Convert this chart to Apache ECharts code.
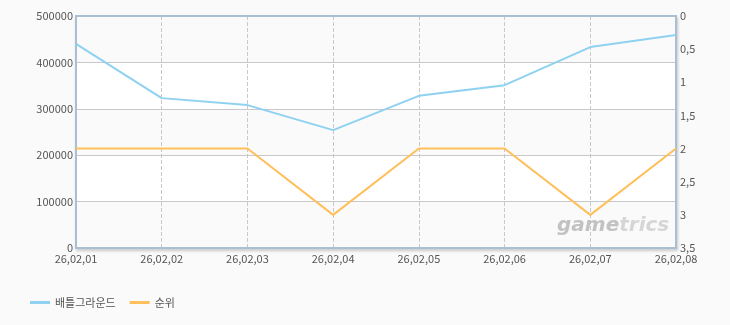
<!DOCTYPE html>
<html>
<head>
<meta charset="utf-8">
<script src="https://cdn.jsdelivr.net/npm/echarts@6/dist/echarts.min.js"></script>
<style>
  html, body { margin: 0; padding: 0; background: #fafafa; }
  #chart { width: 730px; height: 325px; }
</style>
</head>
<body>
<div id="chart"></div>
<script>
// 날짜
var dates = ['26.02.01', '26.02.02', '26.02.03', '26.02.04', '26.02.05', '26.02.06', '26.02.07', '26.02.08']
// 배틀그라운드 값
var battleground = [440000, 323000, 308000, 254000, 328000, 351000, 433000, 459000]
// 순위
var rank = [2, 2, 2, 3, 2, 2, 3, 2]

var font = '"Noto Sans CJK KR", "DejaVu Sans", sans-serif'
var frameColor = '#abbfd3'

var chart = echarts.init(document.getElementById('chart'))
chart.setOption({
  animation: false,
  backgroundColor: '#fafafa',
  textStyle: { fontFamily: font },
  grid: {
    left: 76,
    right: 54,
    top: 16,
    bottom: 77,
    show: true,
    backgroundColor: '#fff',
    borderColor: frameColor,
    borderWidth: 2,
    shadowColor: 'rgba(0,0,0,0.15)',
    shadowBlur: 3,
    shadowOffsetX: 1,
    shadowOffsetY: 2
  },
  legend: {
    left: 25,
    top: 292,
    icon: 'rect',
    itemWidth: 20,
    itemHeight: 3,
    itemGap: 14,
    textStyle: { color: '#555', fontSize: 11, fontFamily: font },
    data: ['배틀그라운드', '순위']
  },
  xAxis: [
    {
      type: 'category',
      boundaryGap: false,
      data: dates,
      axisLine: { show: true, lineStyle: { color: frameColor, width: 2 } },
      axisTick: { show: false },
      axisLabel: {
        color: '#555',
        fontSize: 11,
        margin: 5,
        formatter: function (v) { return v.replace(/\./g, ',') }
      },
      splitLine: { show: true, lineStyle: { color: '#c8c8c8', type: 'dashed' } }
    },
    {
      type: 'category',
      position: 'top',
      boundaryGap: false,
      data: dates,
      axisLine: { show: true, lineStyle: { color: frameColor, width: 2 } },
      axisTick: { show: false },
      axisLabel: { show: false },
      splitLine: { show: false }
    }
  ],
  yAxis: [
    {
      type: 'value',
      min: 0,
      max: 500000,
      interval: 100000,
      axisLine: { show: true, lineStyle: { color: frameColor, width: 2 } },
      axisTick: { show: false },
      axisLabel: {
        color: '#555',
        fontSize: 11,
        margin: 3,
        formatter: function (v) { return String(v) }
      },
      splitLine: { lineStyle: { color: '#c8c8c8' } },
      splitArea: { show: true, areaStyle: { color: ['#fafafa', '#ffffff'] } }
    },
    {
      type: 'value',
      inverse: true,
      min: 0,
      max: 3.5,
      interval: 0.5,
      axisLine: { show: true, lineStyle: { color: frameColor, width: 2 } },
      axisTick: { show: false },
      axisLabel: {
        color: '#555',
        fontSize: 11,
        margin: 4,
        formatter: function (v) { return String(v).replace('.', ',') }
      },
      splitLine: { show: false }
    }
  ],
  graphic: [
    {
      type: 'text',
      left: 557,
      top: 216,
      z: 1,
      style: {
        text: '{a|game}{b|trics}',
        rich: {
          a: { fill: '#c2c2c2', font: 'italic bold 20px "DejaVu Sans", sans-serif' },
          b: { fill: '#d6d6d6', font: 'italic bold 20px "DejaVu Sans", sans-serif' }
        }
      }
    }
  ],
  series: [
    {
      name: '배틀그라운드',
      type: 'line',
      data: battleground,
      yAxisIndex: 0,
      showSymbol: false,
      color: '#8fd1f0',
      lineStyle: { width: 2 },
      z: 3
    },
    {
      name: '순위',
      type: 'line',
      data: rank,
      yAxisIndex: 1,
      showSymbol: false,
      color: '#ffbf5a',
      lineStyle: { width: 2 },
      z: 3
    }
  ]
})
</script>
</body>
</html>
